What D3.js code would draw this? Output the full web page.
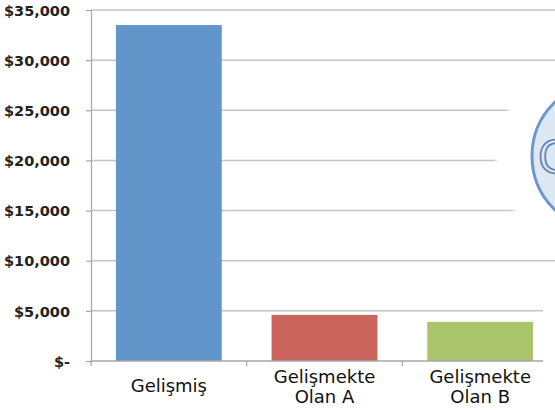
<!DOCTYPE html>
<html>
<head>
<meta charset="utf-8">
<script src="https://cdn.jsdelivr.net/npm/d3@7"></script>
<style>
  body { margin: 0; background: #fff; }
  svg { display: block; }
</style>
</head>
<body>
<div id="chart"></div>
<script>
// data
var categories = ["Gelişmiş", "Gelişmekte Olan A", "Gelişmekte Olan B"];
var labelLines = [["Gelişmiş"], ["Gelişmekte", "Olan A"], ["Gelişmekte", "Olan B"]];
var values = [33500, 4600, 3900];
var barColors = ["#6295c9", "#cb645c", "#a9c46b"];
var yTicks = [0, 5000, 10000, 15000, 20000, 25000, 30000, 35000];

var svgWidth = 555, svgHeight = 410;
var margin = { top: 10, right: -3, bottom: 49, left: 91 };
var chartWidth = svgWidth - margin.left - margin.right;
var chartHeight = svgHeight - margin.top - margin.bottom;

var svg = d3.select("#chart").append("svg")
    .attr("width", svgWidth)
    .attr("height", svgHeight);

var g = svg.append("g")
    .attr("transform", `translate(${margin.left}, ${margin.top})`);

var xScale = d3.scaleBand()
    .domain(categories)
    .range([0, chartWidth])
    .paddingInner(0.32)
    .paddingOuter(0.16);

var yScale = d3.scaleLinear()
    .domain([0, 35000])
    .range([chartHeight, 0]);

// gridlines
g.append("g")
    .selectAll("line")
    .data(yTicks.filter(d => d > 0))
    .enter()
    .append("line")
    .attr("x1", 0)
    .attr("x2", svgWidth - margin.left)
    .attr("y1", d => yScale(d))
    .attr("y2", d => yScale(d))
    .attr("stroke", "#c4c4c4")
    .attr("stroke-width", 1.5);

// bars
g.selectAll("rect.bar")
    .data(values)
    .enter()
    .append("rect")
    .attr("class", "bar")
    .attr("x", (d, i) => xScale(categories[i]))
    .attr("width", xScale.bandwidth())
    .attr("y", d => yScale(d))
    .attr("height", d => chartHeight - yScale(d))
    .attr("fill", (d, i) => barColors[i]);

// y axis
var leftAxis = d3.axisLeft(yScale)
    .tickValues(yTicks)
    .tickSize(5)
    .tickPadding(16)
    .tickFormat(d => d === 0 ? "$-" : "$" + d3.format(",")(d));

var yAxisG = g.append("g").call(leftAxis);
yAxisG.select(".domain").attr("stroke", "#a6a6a6").attr("stroke-width", 1.2);
yAxisG.selectAll(".tick line").attr("stroke", "#a6a6a6").attr("stroke-width", 1.2);
yAxisG.selectAll(".tick text")
    .attr("font-family", "DejaVu Sans")
    .attr("font-weight", "bold")
    .attr("font-size", "14.5px")
    .attr("fill", "#222")
    .attr("dy", "0.36em");

// x axis baseline + ticks between categories
var step = xScale.step();
g.append("line")
    .attr("x1", 0).attr("x2", chartWidth)
    .attr("y1", chartHeight).attr("y2", chartHeight)
    .attr("stroke", "#a6a6a6").attr("stroke-width", 1.5);
g.selectAll("line.xtick")
    .data(d3.range(categories.length + 1))
    .enter()
    .append("line")
    .attr("class", "xtick")
    .attr("x1", i => xScale(categories[0]) - xScale.paddingOuter() * step + i * step)
    .attr("x2", i => xScale(categories[0]) - xScale.paddingOuter() * step + i * step)
    .attr("y1", chartHeight)
    .attr("y2", chartHeight + 5)
    .attr("stroke", "#a6a6a6").attr("stroke-width", 1.2);

// category labels
var xLabels = g.selectAll("text.xlab")
    .data(labelLines)
    .enter()
    .append("text")
    .attr("class", "xlab")
    .attr("text-anchor", "middle")
    .attr("font-family", "DejaVu Sans")
    .attr("font-size", "18px")
    .attr("fill", "#111")
    .attr("transform", (d, i) => `translate(${xScale(categories[i]) + xScale.bandwidth() / 2}, ${chartHeight})`);

xLabels.each(function(lines) {
    var t = d3.select(this);
    var startY = lines.length === 1 ? 31 : 22;
    lines.forEach(function(line, j) {
        t.append("tspan")
            .attr("x", 0)
            .attr("y", startY + j * 20)
            .text(line);
    });
});

// overlapping shape on the right (white halo + circle)
var defs = svg.append("defs");
var halo = defs.append("radialGradient").attr("id", "halo");
halo.append("stop").attr("offset", "0.6").attr("stop-color", "#fff").attr("stop-opacity", 1);
halo.append("stop").attr("offset", "0.95").attr("stop-color", "#fff").attr("stop-opacity", 1);
halo.append("stop").attr("offset", "1").attr("stop-color", "#fff").attr("stop-opacity", 0);

svg.append("ellipse")
    .attr("cx", 607).attr("cy", 156).attr("rx", 114).attr("ry", 102)
    .attr("fill", "url(#halo)");

svg.append("rect")
    .attr("x", 543).attr("y", 300).attr("width", 12).attr("height", 70)
    .attr("fill", "#fff");

svg.append("circle")
    .attr("cx", 607).attr("cy", 156).attr("r", 75)
    .attr("fill", "#dde8f5")
    .attr("stroke", "#6f97cc")
    .attr("stroke-width", 3);

svg.append("text")
    .attr("x", 538).attr("y", 173)
    .attr("font-family", "DejaVu Sans")
    .attr("font-size", "44px")
    .attr("fill", "#dde8f5")
    .attr("stroke", "#5a7fb5")
    .attr("stroke-width", 1.6)
    .text("G");
</script>
</body>
</html>
